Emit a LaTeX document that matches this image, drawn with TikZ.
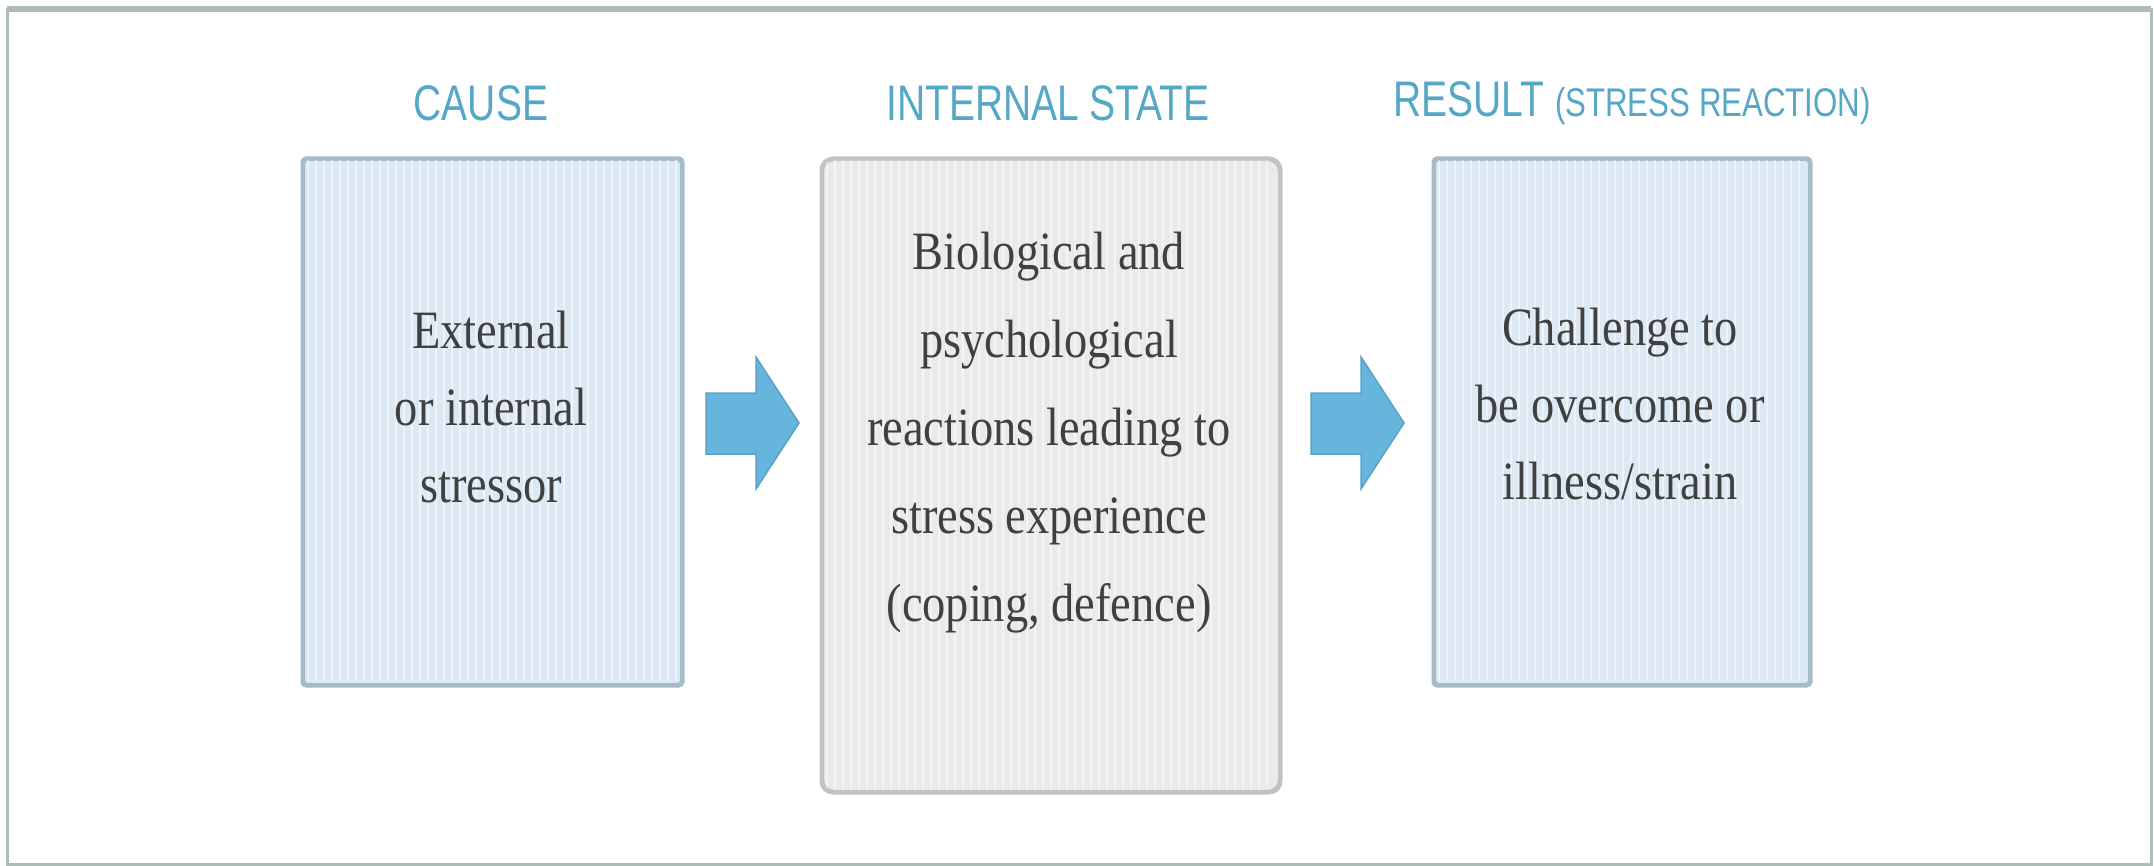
\documentclass[tikz,border=0pt]{standalone}
\usepackage{fontspec}
\setmainfont{Liberation Serif}
\newfontfamily\headfont[FakeStretch=0.78]{Liberation Sans}
\newfontfamily\bodyfont[FakeStretch=0.86]{Liberation Serif}
\usetikzlibrary{calc}

\definecolor{framegray}{HTML}{ADBCB6}
\definecolor{headblue}{HTML}{55A7C8}
\definecolor{bluefill}{HTML}{DCE9F4}
\definecolor{blueedge}{HTML}{A6BBC8}
\definecolor{grayfill}{HTML}{EAEAEA}
\definecolor{grayedge}{HTML}{C2C2C2}
\definecolor{arrowfill}{HTML}{66B5DD}
\definecolor{arrowedge}{HTML}{5AA2C8}
\definecolor{textgray}{HTML}{404040}

\tikzset{
  heading/.style={text=headblue, font=\headfont\fontsize{50}{58}\selectfont, inner sep=0pt},
  bluebox/.style={draw=blueedge, fill=bluefill, line width=3pt, rounded corners=4pt,
                  anchor=north west, inner sep=0pt},
  graybox/.style={draw=grayedge, fill=grayfill, line width=3pt, rounded corners=12pt,
                  anchor=north west, inner sep=0pt},
  bodytext/.style={text=textgray, align=center, inner sep=0pt,
                   font=\bodyfont\fontsize{54}{77}\selectfont},
  stripe/.style={white, opacity=0.5, line width=2.5pt},
  blockarrow/.style={fill=arrowfill, draw=arrowedge, line width=1.5pt, line join=miter}
}

\begin{document}
\begin{tikzpicture}[x=1pt,y=-1pt]
  \useasboundingbox (0,0) rectangle (2154,866);
  \fill[white] (0,0) rectangle (2154,866);

  % outer frame
  \draw[framegray, line width=3pt] (7,10) rectangle (2151,864);
  \draw[framegray, line width=6pt] (7,9) -- (2151,9);

  % headings
  \node[heading] (hcause) at (481,103) {CAUSE};
  \node[heading] (hstate) at (1048,103) {INTERNAL STATE};
  \node[heading] (hresult) at (1632,103)
    {RESULT {\fontsize{40}{44}\selectfont(STRESS REACTION)}};

  % the three stages
  \node[bluebox, minimum width=378pt, minimum height=525pt] (cause) at (302,158) {};
  \node[graybox, minimum width=457pt, minimum height=632pt] (state) at (821,158) {};
  \node[bluebox, minimum width=375pt, minimum height=525pt] (result) at (1433,158) {};

  % fine vertical ruling inside the boxes
  \begin{scope}
    \clip (cause.north west) rectangle (cause.south east);
    \foreach \x in {308,316,...,676} \draw[stripe] (\x,160) -- (\x,681);
  \end{scope}
  \begin{scope}
    \clip[rounded corners=12pt] (state.north west) rectangle (state.south east);
    \foreach \x in {827,835,...,1274} \draw[stripe] (\x,160) -- (\x,788);
  \end{scope}
  \begin{scope}
    \clip (result.north west) rectangle (result.south east);
    \foreach \x in {1439,1447,...,1806} \draw[stripe] (\x,160) -- (\x,681);
  \end{scope}
  \draw[blueedge, line width=3pt, rounded corners=4pt] (cause.north west) rectangle (cause.south east);
  \draw[grayedge, line width=3pt, rounded corners=12pt] (state.north west) rectangle (state.south east);
  \draw[blueedge, line width=3pt, rounded corners=4pt] (result.north west) rectangle (result.south east);

  % box texts
  \node[bodytext] (tcause) at (491,407) {External\\or internal\\stressor};
  \node[bodytext, font=\bodyfont\fontsize{54}{88}\selectfont] (tstate) at (1049,433)
    {Biological and\\psychological\\reactions leading to\\stress experience\\(coping, defence)};
  \node[bodytext] (tresult) at (1620,404) {Challenge to\\be overcome or\\illness/strain};

  % block arrows between the stages
  \coordinate (m1) at ($(cause.east)!0.5!(cause.east -| state.west)$);
  \coordinate (m2) at ($(state.east |- cause.east)!0.5!(result.west |- cause.east)$);
  \foreach \m in {m1,m2}{
    \draw[blockarrow] ($(\m)+(-46,-29)$) -- ($(\m)+(4,-29)$) -- ($(\m)+(4,-65)$)
      -- ($(\m)+(47,1)$) -- ($(\m)+(4,67)$) -- ($(\m)+(4,32)$) -- ($(\m)+(-46,32)$) -- cycle;
  }
\end{tikzpicture}
\end{document}
